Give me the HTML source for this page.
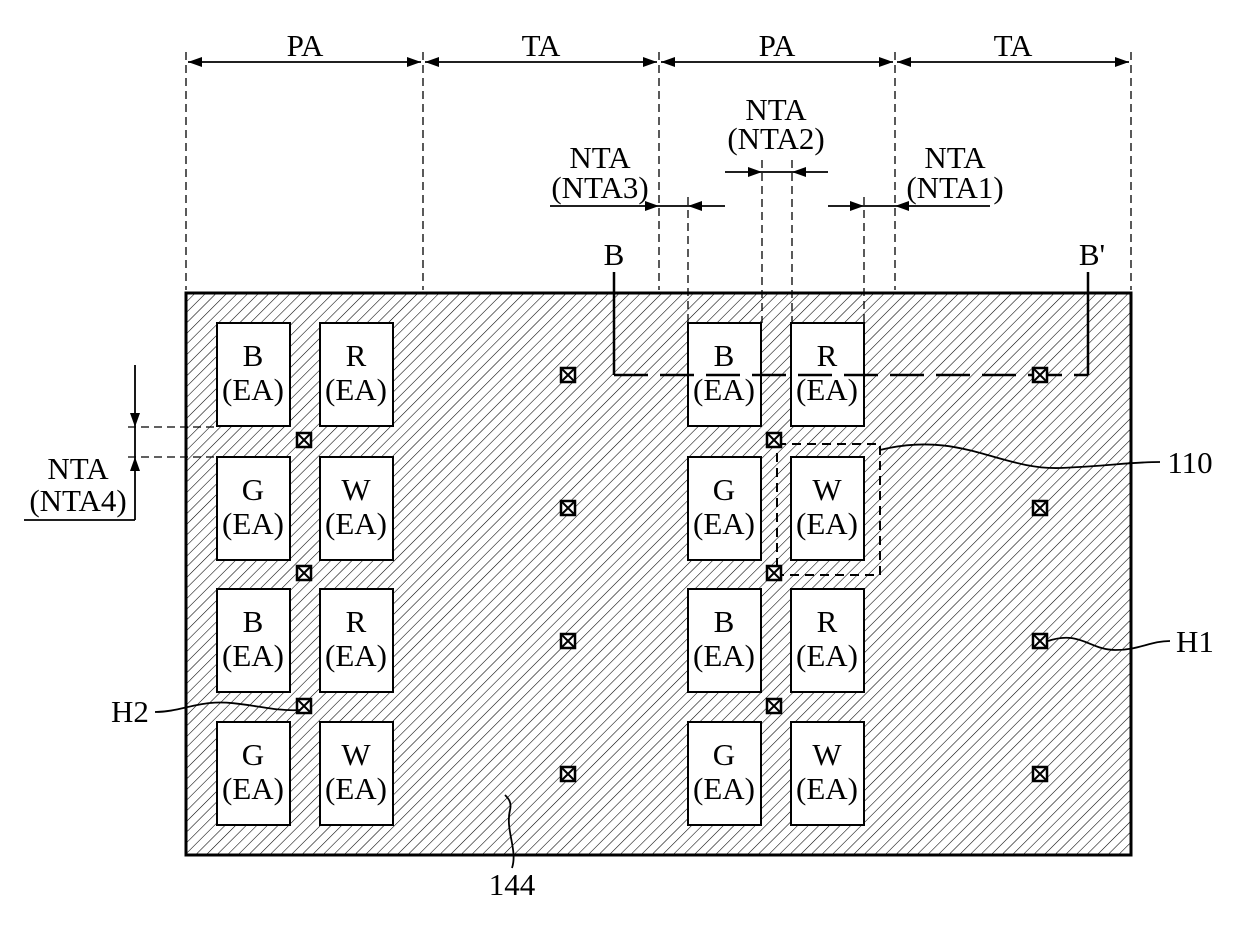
<!DOCTYPE html>
<html><head><meta charset="utf-8"><style>body{margin:0;background:#fff}svg{display:block}text{font-family:"Liberation Serif",serif;font-size:31px;fill:#000;text-anchor:middle}</style></head><body>
<svg width="1240" height="942" viewBox="0 0 1240 942" xmlns="http://www.w3.org/2000/svg">
<defs>
<pattern id="h" patternUnits="userSpaceOnUse" width="7.5" height="7.5" patternTransform="rotate(45)"><line x1="0" y1="0" x2="0" y2="7.5" stroke="#000" stroke-width="1.1"/></pattern>
<marker id="a" markerWidth="14" markerHeight="10" refX="14" refY="5" orient="auto" markerUnits="userSpaceOnUse"><path d="M0,0L14,5L0,10z" fill="#000"/></marker>
<g id="x"><rect x="-7" y="-7" width="14" height="14" fill="#fff" stroke="#000" stroke-width="2.5"/><path d="M-7,-7L7,7M7,-7L-7,7" stroke="#000" stroke-width="2"/></g>
</defs>
<g stroke="#000" stroke-width="1.3" stroke-dasharray="8,5" fill="none">
<path d="M186,52V290M423,52V290M659,52V290M895,52V290M1131,52V290"/>
<path d="M688,197V323M762,160V323M792,160V323M864,197V323"/>
<path d="M128,427H217M128,457H217"/>
</g>
<rect x="186" y="293" width="945" height="562" fill="url(#h)" stroke="#000" stroke-width="3"/>
<g fill="#fff" stroke="#000" stroke-width="2">
<rect x="217" y="323" width="73" height="103"/><rect x="320" y="323" width="73" height="103"/>
<rect x="217" y="457" width="73" height="103"/><rect x="320" y="457" width="73" height="103"/>
<rect x="217" y="589" width="73" height="103"/><rect x="320" y="589" width="73" height="103"/>
<rect x="217" y="722" width="73" height="103"/><rect x="320" y="722" width="73" height="103"/>
<rect x="688" y="323" width="73" height="103"/><rect x="791" y="323" width="73" height="103"/>
<rect x="688" y="457" width="73" height="103"/><rect x="791" y="457" width="73" height="103"/>
<rect x="688" y="589" width="73" height="103"/><rect x="791" y="589" width="73" height="103"/>
<rect x="688" y="722" width="73" height="103"/><rect x="791" y="722" width="73" height="103"/>
</g>
<g>
<text x="253" y="366">B</text><text x="253" y="400">(EA)</text><text x="356" y="366">R</text><text x="356" y="400">(EA)</text>
<text x="253" y="500">G</text><text x="253" y="534">(EA)</text><text x="356" y="500">W</text><text x="356" y="534">(EA)</text>
<text x="253" y="632">B</text><text x="253" y="666">(EA)</text><text x="356" y="632">R</text><text x="356" y="666">(EA)</text>
<text x="253" y="765">G</text><text x="253" y="799">(EA)</text><text x="356" y="765">W</text><text x="356" y="799">(EA)</text>
<text x="724" y="366">B</text><text x="724" y="400">(EA)</text><text x="827" y="366">R</text><text x="827" y="400">(EA)</text>
<text x="724" y="500">G</text><text x="724" y="534">(EA)</text><text x="827" y="500">W</text><text x="827" y="534">(EA)</text>
<text x="724" y="632">B</text><text x="724" y="666">(EA)</text><text x="827" y="632">R</text><text x="827" y="666">(EA)</text>
<text x="724" y="765">G</text><text x="724" y="799">(EA)</text><text x="827" y="765">W</text><text x="827" y="799">(EA)</text>
</g>
<g fill="none" stroke="#000" stroke-width="2.5">
<path d="M614,272V375M1088,272V375"/>
<path d="M614,375H1088" stroke-dasharray="34,12"/>
</g>
<rect x="777" y="444" width="103" height="131" fill="none" stroke="#000" stroke-width="2" stroke-dasharray="9,6"/>
<use href="#x" x="304" y="440"/><use href="#x" x="304" y="573"/><use href="#x" x="304" y="706"/>
<use href="#x" x="774" y="440"/><use href="#x" x="774" y="573"/><use href="#x" x="774" y="706"/>
<use href="#x" x="568" y="375"/><use href="#x" x="568" y="508"/><use href="#x" x="568" y="641"/><use href="#x" x="568" y="774"/>
<use href="#x" x="1040" y="375"/><use href="#x" x="1040" y="508"/><use href="#x" x="1040" y="641"/><use href="#x" x="1040" y="774"/>
<g stroke="#000" stroke-width="1.8" fill="none">
<path d="M304,62H188" marker-end="url(#a)"/><path d="M304,62H421" marker-end="url(#a)"/>
<path d="M541,62H425" marker-end="url(#a)"/><path d="M541,62H657" marker-end="url(#a)"/>
<path d="M777,62H661" marker-end="url(#a)"/><path d="M777,62H893" marker-end="url(#a)"/>
<path d="M1013,62H897" marker-end="url(#a)"/><path d="M1013,62H1129" marker-end="url(#a)"/>
<path d="M725,172H762" marker-end="url(#a)"/><path d="M828,172H792" marker-end="url(#a)"/><path d="M762,172H792"/>
<path d="M550,206H659" marker-end="url(#a)"/><path d="M725,206H688" marker-end="url(#a)"/><path d="M659,206H688"/>
<path d="M828,206H864" marker-end="url(#a)"/><path d="M990,206H895" marker-end="url(#a)"/><path d="M864,206H895"/>
<path d="M135,365V427" marker-end="url(#a)"/><path d="M135,520V457" marker-end="url(#a)"/><path d="M135,427V457M135,520H24"/>
<path d="M880,450C960,430 1000,470 1060,468C1110,466 1130,462 1160,462"/>
<path d="M1048,641C1080,630 1090,650 1115,650C1140,650 1150,641 1170,641"/>
<path d="M300,710C270,712 240,700 210,703C190,705 175,712 155,712"/>
<path d="M512,868C518,850 505,830 510,810C512,802 508,798 505,795"/>
</g>
<text x="305" y="56">PA</text><text x="541" y="56">TA</text><text x="777" y="56">PA</text><text x="1013" y="56">TA</text>
<text x="776" y="120">NTA</text><text x="776" y="149">(NTA2)</text>
<text x="600" y="168">NTA</text><text x="600" y="198">(NTA3)</text>
<text x="955" y="168">NTA</text><text x="955" y="198">(NTA1)</text>
<text x="614" y="265">B</text><text x="1092" y="265">B'</text>
<text x="78" y="479">NTA</text><text x="78" y="511">(NTA4)</text>
<text x="1190" y="473">110</text><text x="1195" y="652">H1</text><text x="130" y="722">H2</text><text x="512" y="895">144</text>
</svg>
</body></html>
